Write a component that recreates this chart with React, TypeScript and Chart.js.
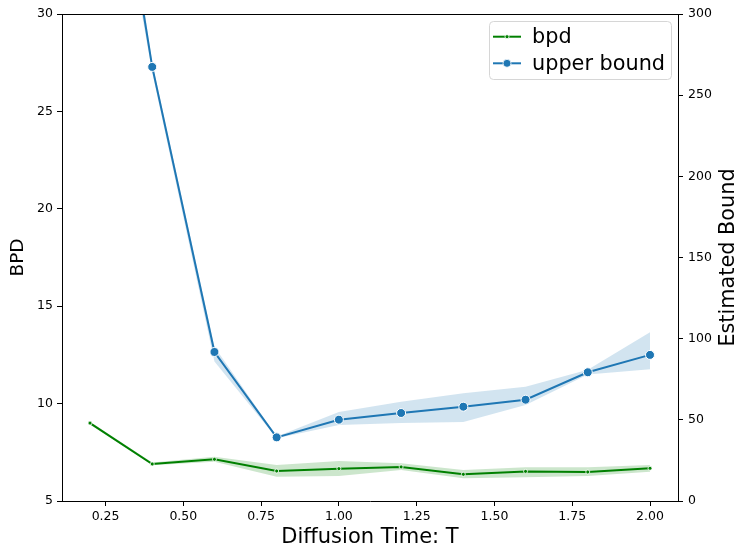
import React, { useEffect, useRef } from "react";
import { Chart, registerables } from "chart.js";

Chart.register(...registerables);

// ---- data ----
const T = [0.2, 0.4, 0.6, 0.8, 1.0, 1.2, 1.4, 1.6, 1.8, 2.0];
const bpd = [9.0, 6.9, 7.14, 6.54, 6.66, 6.75, 6.37, 6.52, 6.49, 6.68];
const bpdLow = [8.93, 6.83, 7.02, 6.25, 6.28, 6.59, 6.17, 6.22, 6.28, 6.5];
const bpdHigh = [9.07, 6.97, 7.27, 6.85, 7.05, 6.94, 6.59, 6.73, 6.73, 6.85];
const upperBound = [505, 267.4, 91.8, 39.2, 50.1, 54.2, 58.1, 62.4, 79.3, 90];
const upperLow = [480, 264, 86, 38.7, 46.8, 48.1, 48.7, 59.1, 78, 81.2];
const upperHigh = [530, 270, 95, 39.8, 54.8, 61.2, 66.4, 70.4, 80.8, 104];
const xTicks = [0.25, 0.5, 0.75, 1.0, 1.25, 1.5, 1.75, 2.0];
const bpdTicks = [5, 10, 15, 20, 25, 30];
const boundTicks = [0, 50, 100, 150, 200, 250, 300];

const GREEN = "#008000";
const BLUE = "#1f77b4";
const FONT = "'DejaVu Sans', sans-serif";

const pts = (ys: number[]) => T.map((x, i) => ({ x, y: ys[i] }));

const framePlugin = {
  id: "frame",
  afterDraw(chart: any) {
    const { ctx, chartArea } = chart;
    ctx.save();
    ctx.strokeStyle = "#000";
    ctx.lineWidth = 1;
    ctx.beginPath();
    ctx.moveTo(chartArea.left, chartArea.top + 0.5);
    ctx.lineTo(chartArea.right, chartArea.top + 0.5);
    ctx.stroke();

    // right axis title (reads bottom to top)
    ctx.fillStyle = "#000";
    ctx.font = `20.8px ${FONT}`;
    ctx.textAlign = "center";
    ctx.textBaseline = "middle";
    ctx.translate(729, (chartArea.top + chartArea.bottom) / 2);
    ctx.rotate(-Math.PI / 2);
    ctx.fillText("Estimated Bound", 0, 0);
    ctx.restore();

    // legend
    ctx.save();
    const bx = 489.5, by = 21.5, bw = 182, bh = 58, r = 4;
    ctx.beginPath();
    ctx.moveTo(bx + r, by);
    ctx.lineTo(bx + bw - r, by);
    ctx.quadraticCurveTo(bx + bw, by, bx + bw, by + r);
    ctx.lineTo(bx + bw, by + bh - r);
    ctx.quadraticCurveTo(bx + bw, by + bh, bx + bw - r, by + bh);
    ctx.lineTo(bx + r, by + bh);
    ctx.quadraticCurveTo(bx, by + bh, bx, by + bh - r);
    ctx.lineTo(bx, by + r);
    ctx.quadraticCurveTo(bx, by, bx + r, by);
    ctx.closePath();
    ctx.fillStyle = "rgba(255,255,255,0.8)";
    ctx.fill();
    ctx.strokeStyle = "#d6d6d6";
    ctx.lineWidth = 1;
    ctx.stroke();

    const items = [
      { label: "bpd", color: GREEN, y: 36.7, rad: 2 },
      { label: "upper bound", color: BLUE, y: 63.3, rad: 4 },
    ];
    for (const it of items) {
      ctx.strokeStyle = it.color;
      ctx.lineWidth = 2;
      ctx.beginPath();
      ctx.moveTo(493, it.y);
      ctx.lineTo(521, it.y);
      ctx.stroke();
      ctx.beginPath();
      ctx.arc(507, it.y, it.rad, 0, Math.PI * 2);
      ctx.fillStyle = it.color;
      ctx.fill();
      ctx.strokeStyle = "#fff";
      ctx.lineWidth = 0.8;
      ctx.stroke();
      ctx.fillStyle = "#000";
      ctx.font = `20.8px ${FONT}`;
      ctx.textAlign = "left";
      ctx.textBaseline = "middle";
      ctx.fillText(it.label, 532, it.y + 1);
    }
    ctx.restore();
  },
};

export default function App() {
  const ref = useRef<HTMLCanvasElement>(null);

  useEffect(() => {
    if (!ref.current) return;
    const chart = new Chart(ref.current, {
      type: "line",
      data: {
        datasets: [
          {
            data: pts(bpdLow),
            yAxisID: "y",
            borderWidth: 0,
            pointRadius: 0,
            fill: false,
            order: 2,
          },
          {
            data: pts(bpdHigh),
            yAxisID: "y",
            borderWidth: 0,
            pointRadius: 0,
            backgroundColor: "rgba(0,128,0,0.2)",
            fill: 0,
            order: 2,
          },
          {
            label: "bpd",
            data: pts(bpd),
            yAxisID: "y",
            borderColor: GREEN,
            backgroundColor: GREEN,
            borderWidth: 2,
            pointRadius: 2,
            pointBorderColor: "#fff",
            pointBorderWidth: 0.8,
            pointBackgroundColor: GREEN,
            fill: false,
            order: 0,
          },
          {
            data: pts(upperLow),
            yAxisID: "y1",
            borderWidth: 0,
            pointRadius: 0,
            fill: false,
            order: 2,
          },
          {
            data: pts(upperHigh),
            yAxisID: "y1",
            borderWidth: 0,
            pointRadius: 0,
            backgroundColor: "rgba(31,119,180,0.2)",
            fill: 3,
            order: 2,
          },
          {
            label: "upper bound",
            data: pts(upperBound),
            yAxisID: "y1",
            borderColor: BLUE,
            backgroundColor: BLUE,
            borderWidth: 2,
            pointRadius: 4.5,
            pointBorderColor: "#fff",
            pointBorderWidth: 1,
            pointBackgroundColor: BLUE,
            fill: false,
            order: 0,
          },
        ],
      },
      options: {
        responsive: false,
        animation: false,
        devicePixelRatio: 1,
        layout: { padding: { top: 14, left: 0, right: 0, bottom: 0 } },
        plugins: {
          legend: { display: false },
          tooltip: { enabled: false },
        },
        elements: { line: { tension: 0 } },
        scales: {
          x: {
            type: "linear",
            min: 0.11,
            max: 2.09,
            afterBuildTicks: (s: any) => {
              s.ticks = xTicks.map((v) => ({ value: v }));
            },
            afterFit: (s: any) => {
              s.height = 58;
            },
            ticks: {
              autoSkip: false,
              maxRotation: 0,
              padding: 3,
              color: "#000",
              font: { family: FONT, size: 12.5 },
              callback: (v: any) => Number(v).toFixed(2),
            },
            grid: {
              display: true,
              drawOnChartArea: false,
              drawTicks: true,
              tickLength: 5,
              tickColor: "#000",
            },
            border: { display: true, color: "#000", width: 1 },
            title: {
              display: true,
              text: "Diffusion Time: T",
              color: "#000",
              font: { family: FONT, size: 21 },
              padding: { top: 0, bottom: 8.5 },
            },
          },
          y: {
            position: "left",
            min: 5,
            max: 30,
            afterBuildTicks: (s: any) => {
              s.ticks = bpdTicks.map((v) => ({ value: v }));
            },
            afterFit: (s: any) => {
              s.width = 62;
            },
            ticks: {
              padding: 4,
              color: "#000",
              font: { family: FONT, size: 12.5 },
            },
            grid: {
              display: true,
              drawOnChartArea: false,
              drawTicks: true,
              tickLength: 5,
              tickColor: "#000",
            },
            border: { display: true, color: "#000", width: 1 },
            title: {
              display: true,
              text: "BPD",
              color: "#000",
              font: { family: FONT, size: 18.5 },
              padding: { top: 7, bottom: 0 },
            },
          },
          y1: {
            position: "right",
            min: 0,
            max: 300,
            afterBuildTicks: (s: any) => {
              s.ticks = boundTicks.map((v) => ({ value: v }));
            },
            afterFit: (s: any) => {
              s.width = 70;
            },
            ticks: {
              padding: 5,
              color: "#000",
              font: { family: FONT, size: 12.5 },
            },
            grid: {
              display: true,
              drawOnChartArea: false,
              drawTicks: true,
              tickLength: 5,
              tickColor: "#000",
            },
            border: { display: true, color: "#000", width: 1 },
          },
        },
      } as any,
      plugins: [framePlugin],
    });
    return () => chart.destroy();
  }, []);

  return (
    <div style={{ position: "fixed", left: 0, top: 0, width: 748, height: 559, background: "#fff" }}>
      <canvas ref={ref} width={748} height={559} />
    </div>
  );
}
